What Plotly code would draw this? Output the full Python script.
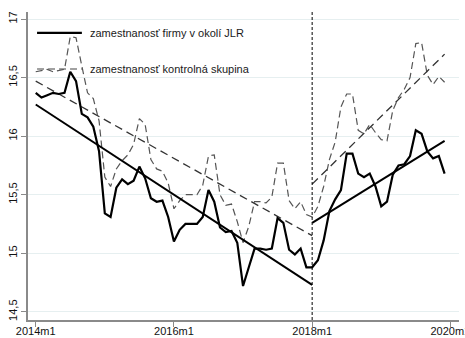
import plotly.graph_objects as go

# Monthly index: 0 = 2014m1 ... 71 = 2019m12
months = list(range(72))

# Log employment, firms around JLR
jlr_firms = [
    16.37, 16.33, 16.35, 16.37, 16.36, 16.37, 16.55, 16.47, 16.19, 16.16,
    16.08, 15.87, 15.34, 15.31, 15.56, 15.63, 15.59, 15.62, 15.74, 15.64,
    15.47, 15.44, 15.45, 15.31, 15.10, 15.20, 15.25, 15.25, 15.25, 15.31,
    15.54, 15.44, 15.22, 15.18, 15.19, 15.09, 14.72, 14.88, 15.04, 15.04,
    15.03, 15.04, 15.30, 15.26, 15.03, 14.99, 15.04, 14.88, 14.88, 14.94,
    15.11, 15.36, 15.46, 15.54, 15.85, 15.85, 15.68, 15.65, 15.68, 15.57,
    15.40, 15.44, 15.67, 15.75, 15.76, 15.83, 16.05, 16.02, 15.87, 15.81,
    15.83, 15.68,
]

# Log employment, control group
control = [
    16.55, 16.56, 16.57, 16.55, 16.56, 16.57, 16.85, 16.84, 16.60, 16.37,
    16.32, 16.13, 15.65, 15.57, 15.72, 15.79, 15.84, 15.93, 16.15, 16.10,
    15.80, 15.72, 15.70, 15.60, 15.38, 15.45, 15.50, 15.50, 15.50, 15.58,
    15.83, 15.84, 15.50, 15.41, 15.42, 15.27, 15.09, 15.23, 15.44, 15.44,
    15.43, 15.48, 15.77, 15.77, 15.45, 15.38, 15.44, 15.33, 15.31, 15.40,
    15.57, 15.80, 15.95, 16.25, 16.36, 16.36, 16.05, 16.02, 16.10, 16.03,
    15.97, 15.96, 16.22, 16.33, 16.40, 16.50, 16.79, 16.80, 16.52, 16.44,
    16.51, 16.46,
]

# Linear trends before / after 2018m1 (endpoints)
pre_x = [0, 48]
post_x = [48, 71]
jlr_fit_pre = [16.27, 14.73]
jlr_fit_post = [15.26, 15.96]
ctrl_fit_pre = [16.47, 15.15]
ctrl_fit_post = [15.59, 16.70]

break_month = 48
x_tickvals = [0, 24, 48, 72]
x_ticktext = ["2014m1", "2016m1", "2018m1", "2020m1"]
y_tickvals = [14.5, 15, 15.5, 16, 16.5, 17]
y_ticktext = ["14,5", "15", "15,5", "16", "16,5", "17"]

legend_labels = ["zamestnanosť firmy v okolí JLR", "zamestnanosť kontrolná skupina"]

FONT = "Liberation Sans, Arial, sans-serif"
AXIS_GREY = "#8a8a8a"

fig = go.Figure()

fig.add_trace(go.Scatter(
    x=months, y=control, mode="lines",
    line=dict(color="#555555", width=1.2, dash="7px,4px"),
    showlegend=False, hoverinfo="skip"))
fig.add_trace(go.Scatter(
    x=pre_x, y=ctrl_fit_pre, mode="lines",
    line=dict(color="#333333", width=1.3, dash="8px,5px"),
    showlegend=False, hoverinfo="skip"))
fig.add_trace(go.Scatter(
    x=post_x, y=ctrl_fit_post, mode="lines",
    line=dict(color="#333333", width=1.3, dash="8px,5px"),
    showlegend=False, hoverinfo="skip"))
fig.add_trace(go.Scatter(
    x=months, y=jlr_firms, mode="lines",
    line=dict(color="#000000", width=2.2),
    showlegend=False, hoverinfo="skip"))
fig.add_trace(go.Scatter(
    x=pre_x, y=jlr_fit_pre, mode="lines",
    line=dict(color="#000000", width=2),
    showlegend=False, hoverinfo="skip"))
fig.add_trace(go.Scatter(
    x=post_x, y=jlr_fit_post, mode="lines",
    line=dict(color="#000000", width=2),
    showlegend=False, hoverinfo="skip"))

# Vertical marker at 2018m1
fig.add_shape(type="line", xref="x", yref="paper",
              x0=break_month, x1=break_month, y0=0, y1=1,
              line=dict(color="#000000", width=1, dash="3px,2px"))

# Legend drawn inside the plot area
legend_rows = [
    (0.932, dict(color="#000000", width=2.2)),
    (0.815, dict(color="#444444", width=1.2, dash="7px,4px")),
]
for (ypos, style), label in zip(legend_rows, legend_labels):
    fig.add_shape(type="line", xref="paper", yref="paper",
                  x0=0.021, x1=0.125, y0=ypos, y1=ypos, line=style)
    fig.add_annotation(xref="paper", yref="paper", x=0.14, y=ypos,
                       text=label, showarrow=False, xanchor="left",
                       yanchor="middle",
                       font=dict(family=FONT, size=11, color="#1a1a1a"))

fig.update_layout(
    width=465, height=338,
    margin=dict(l=28, r=6, t=12, b=18, autoexpand=False),
    paper_bgcolor="white", plot_bgcolor="white",
    font=dict(family=FONT, size=11, color="#111111"),
    xaxis=dict(
        range=[-1.34, 73.5], tickvals=x_tickvals, ticktext=x_ticktext,
        showgrid=False, zeroline=False, automargin=False,
        showline=True, linecolor=AXIS_GREY, linewidth=1.5,
        ticks="outside", ticklen=5, tickcolor=AXIS_GREY,
        ticklabeloverflow="allow", ticklabelstandoff=-5,
        tickfont=dict(family=FONT, size=11, color="#111111"),
    ),
    yaxis=dict(
        range=[14.43, 17.06], tickvals=y_tickvals, ticktext=y_ticktext,
        showgrid=True, gridcolor="#e6eff0", gridwidth=1, zeroline=False,
        automargin=False,
        showline=True, linecolor=AXIS_GREY, linewidth=1.5,
        ticks="outside", ticklen=5, tickcolor=AXIS_GREY, tickangle=-90,
        ticklabeloverflow="allow",
        tickfont=dict(family=FONT, size=11, color="#111111"),
    ),
)

fig.write_html("out.html")
